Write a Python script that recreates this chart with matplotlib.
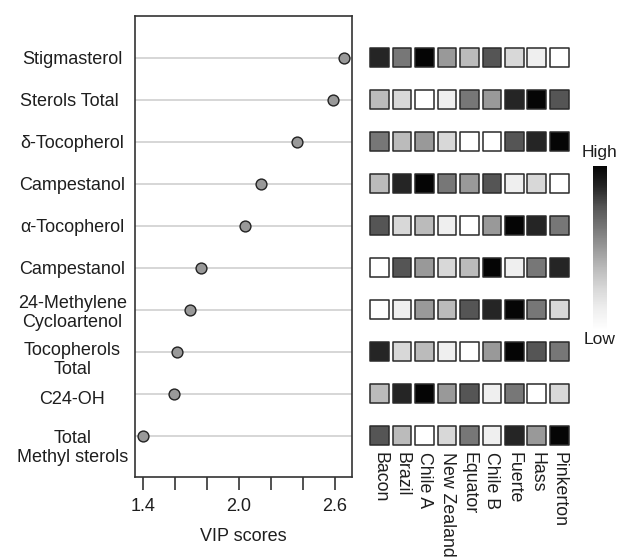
import numpy as np
import matplotlib
matplotlib.use("Agg")
import matplotlib.pyplot as plt
from matplotlib.colors import ListedColormap, LinearSegmentedColormap, Normalize
from matplotlib.cm import ScalarMappable
import matplotlib.transforms as mtransforms

plt.rcParams['font.family'] = ['Liberation Sans', 'DejaVu Sans']

# ---------------- data ----------------
compounds = ["Stigmasterol", "Sterols Total ", "δ-Tocopherol", "Campestanol",
             "α-Tocopherol", "Campestanol", "24-Methylene\nCycloartenol",
             "Tocopherols\nTotal", "C24-OH", "Total\nMethyl sterols"]
vip_scores = [2.655, 2.587, 2.364, 2.141, 2.041, 1.766, 1.693, 1.616, 1.598, 1.40]

varieties = ["Bacon", "Brazil", "Chile A", "New Zealand", "Equator",
             "Chile B", "Fuerte", "Hass", "Pinkerton"]

# relative level (1 = lowest / white, 9 = highest / black)
heat_stigmasterol = [8, 6, 9, 5, 4, 7, 3, 2, 1]
heat_sterols_total = [4, 3, 1, 2, 6, 5, 8, 9, 7]
heat_d_tocopherol = [6, 4, 5, 3, 1, 1, 7, 8, 9]
heat_campestanol_a = [4, 8, 9, 6, 5, 7, 2, 3, 1]
heat_a_tocopherol = [7, 3, 4, 2, 1, 5, 9, 8, 6]
heat_campestanol_b = [1, 7, 5, 3, 4, 9, 2, 6, 8]
heat_methylene = [1, 2, 5, 4, 7, 8, 9, 6, 3]
heat_tocopherols_total = [8, 3, 4, 2, 1, 5, 9, 7, 6]
heat_c24oh = [4, 8, 9, 5, 7, 2, 6, 1, 3]
heat_total_methyl = [7, 4, 1, 3, 6, 2, 8, 5, 9]

heat_rows = [heat_stigmasterol, heat_sterols_total, heat_d_tocopherol,
             heat_campestanol_a, heat_a_tocopherol, heat_campestanol_b,
             heat_methylene, heat_tocopherols_total, heat_c24oh, heat_total_methyl]

# ---------------- style ----------------
gray_levels = ["#ffffff", "#efefef", "#d8d8d8", "#bbbbbb", "#999999",
               "#777777", "#555555", "#252525", "#050505"]
level_cmap = ListedColormap(gray_levels)
grad_cmap = LinearSegmentedColormap.from_list("grad", gray_levels)
text_color = "#1e1e1e"
spine_color = "#333333"

W, H = 619, 558
fig = plt.figure(figsize=(W / 100, H / 100), dpi=100)

def frac(x0, y0, x1, y1):
    return [x0 / W, 1 - y1 / H, (x1 - x0) / W, (y1 - y0) / H]

# ---------------- dot plot ----------------
ax = fig.add_axes(frac(134.7, 15.7, 351.7, 476.7))
rows = np.arange(len(compounds))
ax.set_ylim(len(compounds) - 0.02, -1)
ax.set_xlim(1.35, 2.706)
ax.set_yticks(rows)
ax.set_yticklabels(compounds, ha="center", multialignment="center",
                   fontsize=13, color=text_color)
ax.tick_params(axis="y", length=0, pad=45)
ax.grid(axis="y", color="#cccccc", linewidth=1.1)
ax.set_axisbelow(True)
ax.plot(vip_scores, rows, linestyle="none", marker="o", markersize=7.8,
        markerfacecolor="#999999", markeredgecolor="#222222",
        markeredgewidth=1.0, zorder=3)

ax.set_xticks([1.4, 1.6, 1.8, 2.0, 2.2, 2.4, 2.6])
ax.set_xticklabels(["1.4", "", "", "2.0", "", "", "2.6"], fontsize=13,
                   color=text_color)
ax.tick_params(axis="x", length=9.5, width=1.2, color=spine_color, pad=6)
ax.set_xlabel("VIP scores", fontsize=13, color=text_color, labelpad=9)
for sp in ax.spines.values():
    sp.set_color(spine_color)
    sp.set_linewidth(1.2)

# fine vertical shifts of multi-line labels
shifts = {7: -5, 9: -9, 8: -4}
for i, lab in enumerate(ax.get_yticklabels()):
    if i in shifts:
        lab.set_transform(lab.get_transform() +
                          mtransforms.ScaledTranslation(0, shifts[i] / 100, fig.dpi_scale_trans))

# ---------------- heatmap ----------------
px_per_row = (476.7 - 15.7) / (len(compounds) - 0.02 + 1)
hb = 448.0
hax = fig.add_axes(frac(368.5, 15.7, 570.4, hb))
hax.set_ylim(-1 + (hb - 15.7) / px_per_row, -1)
hax.set_xlim(-0.5, len(varieties) - 0.5)
mat = np.array(heat_rows)
cols_idx, rows_idx = np.meshgrid(np.arange(len(varieties)), rows)
hax.scatter(cols_idx.ravel(), rows_idx.ravel(), c=mat.ravel(), cmap=level_cmap,
            vmin=0.5, vmax=9.5, marker="s", s=180, edgecolors="#2a2a2a",
            linewidths=1.1)
for sp in hax.spines.values():
    sp.set_visible(False)
hax.set_yticks([])
hax.set_xticks(np.arange(len(varieties)))
hax.set_xticklabels(varieties, rotation=270, ha="center", va="top",
                    fontsize=12.8, color=text_color)
hax.tick_params(axis="x", length=0, pad=3)
hax.set_facecolor("none")

# ---------------- colour key ----------------
cax = fig.add_axes(frac(593.3, 166, 606.7, 330))
cb = fig.colorbar(ScalarMappable(norm=Normalize(0, 1), cmap=grad_cmap), cax=cax)
cb.outline.set_visible(False)
cb.set_ticks([])
fig.text(599.5 / W, 1 - 152 / H, "High", ha="center", va="center",
         fontsize=12.5, color=text_color)
fig.text(600 / W, 1 - 340 / H, "Low", ha="center", va="center",
         fontsize=12.5, color=text_color)

fig.savefig("out.png", dpi=100)
